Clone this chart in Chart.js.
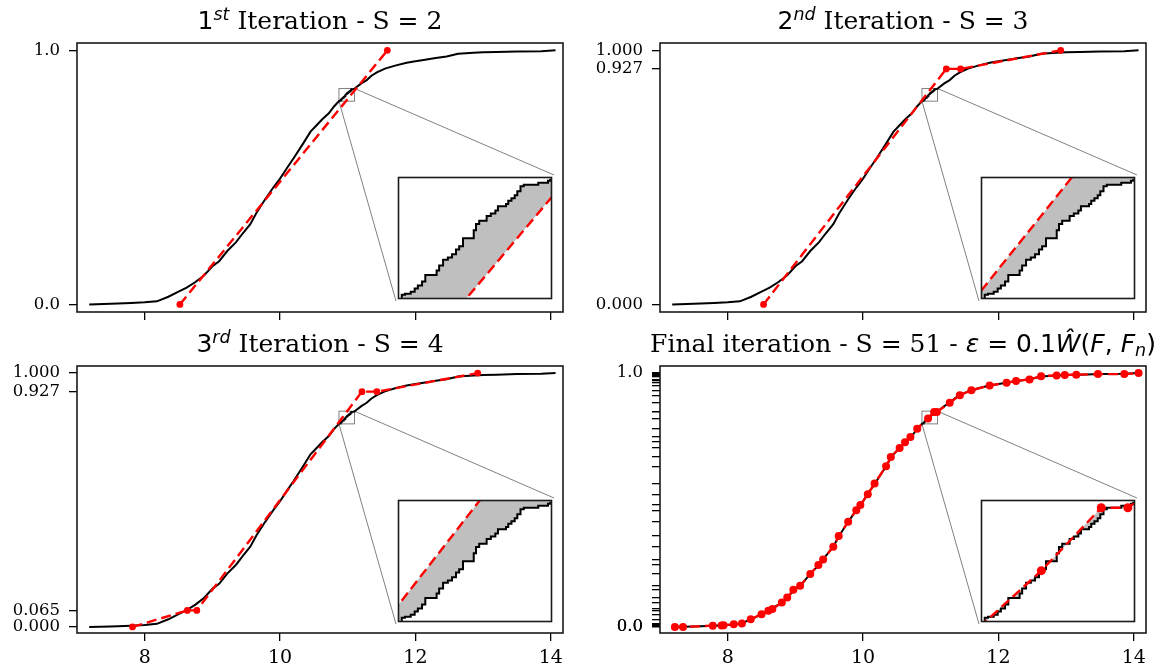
<!DOCTYPE html>
<html>
<head>
<meta charset="utf-8">
<script src="https://cdn.jsdelivr.net/npm/chart.js@4.4.1/dist/chart.umd.min.js"></script>
<style>
  html, body { margin: 0; padding: 0; background: #fff; }
  #wrap { position: relative; width: 1160px; height: 670px; overflow: hidden; }
  canvas { position: absolute; }
  .title { position: absolute; width: 700px; white-space: nowrap; text-align: center;
           font-family: 'DejaVu Serif', serif; font-size: 25px; line-height: 25px; color: #000; }
  .m { font-family: 'DejaVu Sans', sans-serif; }
  .title sup { font-size: 0.7em; font-style: italic; vertical-align: 0.5em; line-height: 0; }
  .title sub { font-size: 0.7em; vertical-align: -0.25em; line-height: 0; }
</style>
</head>
<body>
<div id="wrap"></div>
<script>
  const ecdfX = [7.18, 7.50, 7.80, 8.00, 8.18, 8.35, 8.50, 8.62, 8.75, 8.88, 9.00, 9.10, 9.22, 9.35, 9.45, 9.56, 9.65, 9.78, 9.90, 10.00, 10.10, 10.20, 10.34, 10.45, 10.54, 10.62, 10.72, 10.80,
    10.8749, 10.8797, 10.8884, 10.8943, 10.8991, 10.9054, 10.9103, 10.9273, 10.9311, 10.9370, 10.9442, 10.9505, 10.9564, 10.9612, 10.9670, 10.9831, 10.9865, 10.9913,
    11.0025, 11.0088, 11.0156, 11.0195, 11.0316, 11.0350, 11.0398, 11.0447, 11.0486, 11.0534, 11.0583, 11.0801, 11.0947, 11.0981,
    11.20, 11.28, 11.35, 11.43, 11.55, 11.70, 11.87, 12.00, 12.12, 12.30, 12.46, 12.63, 12.86, 13.00, 13.20, 13.50, 13.86, 14.07];
  const ecdfY = [0.000, 0.002, 0.005, 0.008, 0.012, 0.030, 0.050, 0.066, 0.088, 0.115, 0.150, 0.170, 0.210, 0.245, 0.280, 0.316, 0.360, 0.414, 0.460, 0.495, 0.536, 0.575, 0.633, 0.680, 0.705, 0.728, 0.752, 0.780,
    0.8015, 0.8020, 0.8028, 0.8041, 0.8054, 0.8070, 0.8097, 0.8116, 0.8136, 0.8160, 0.8169, 0.8183, 0.8202, 0.8216, 0.8249, 0.8282, 0.8308, 0.8321,
    0.8341, 0.8351, 0.8364, 0.8381, 0.8390, 0.8404, 0.8414, 0.8427, 0.8443, 0.8464, 0.8470, 0.8478, 0.8487, 0.8491,
    0.870, 0.883, 0.900, 0.913, 0.928, 0.940, 0.951, 0.957, 0.962, 0.970, 0.976, 0.987, 0.991, 0.993, 0.994, 0.996, 0.997, 1.000];

  // piecewise linear approximations
  const s2X = [8.52, 11.585];
  const s2Y = [0, 1];
  const s3X = [8.53, 11.23, 11.44, 12.92];
  const s3Y = [0, 0.927, 0.927, 1.0];
  const s4X = [7.82, 8.63, 8.77, 11.21, 11.43, 12.92];
  const s4Y = [0, 0.065, 0.065, 0.927, 0.927, 1.0];
  const s51X = [7.22, 7.34, 7.78, 7.91, 7.94, 8.09, 8.21, 8.34, 8.50, 8.60, 8.66, 8.80, 8.88, 8.97, 9.07, 9.22, 9.34, 9.41, 9.56, 9.64, 9.78, 9.90, 9.96, 10.07,
    10.17, 10.34, 10.41, 10.54, 10.62, 10.70, 10.80, 10.96, 11.05, 11.09, 11.28, 11.43, 11.60, 11.87, 12.12, 12.26, 12.46, 12.63, 12.86, 12.98, 13.15, 13.47, 13.86, 14.07];
  const s51Y = [0.000, 0.000, 0.005, 0.006, 0.007, 0.010, 0.013, 0.030, 0.050, 0.064, 0.071, 0.096, 0.116, 0.146, 0.162, 0.208, 0.244, 0.266, 0.316, 0.358, 0.414, 0.460, 0.480, 0.523,
    0.565, 0.633, 0.669, 0.705, 0.728, 0.748, 0.781, 0.821, 0.847, 0.847, 0.883, 0.913, 0.932, 0.951, 0.962, 0.969, 0.975, 0.988, 0.991, 0.993, 0.994, 0.996, 0.996, 1.000];

  const xTicks = [8, 10, 12, 14];
  const yTicks1 = [0, 1];
  const yTicks2 = [0, 0.927, 1];
  const yTicks3 = [0, 0.065, 0.927, 1];
  const zoomX = [10.87, 11.10];
  const zoomY = [0.80, 0.85];

  const titles = [
    '<span class="m">1<sup>st</sup></span> Iteration - S = 2',
    '<span class="m">2<sup>nd</sup></span> Iteration - S = 3',
    '<span class="m">3<sup>rd</sup></span> Iteration - S = 4',
    'Final iteration - S = 51 - <span class="m"><i>ε</i> = 0.1<i>Ŵ</i>(<i>F</i>, <i>F</i><sub><i>n</i></sub>)</span>'
  ];

  const panels = [
    { L: 77, T: 43, H: 269, sx: s2X, sy: s2Y, ticks: yTicks1, digits: 1, ymin: -0.030, ymax: 1.029, xlabels: false, title: titles[0], r: 3.4 },
    { L: 660, T: 43, H: 269, sx: s3X, sy: s3Y, ticks: yTicks2, digits: 3, ymin: -0.030, ymax: 1.029, xlabels: false, title: titles[1], r: 3.4 },
    { L: 77, T: 366, H: 267, sx: s4X, sy: s4Y, ticks: yTicks3, digits: 3, ymin: -0.024, ymax: 1.028, xlabels: true, title: titles[2], r: 3.4 },
    { L: 660, T: 366, H: 267, sx: s51X, sy: s51Y, ticks: s51Y, digits: 1, ymin: -0.024, ymax: 1.028, xlabels: true, title: titles[3], r: 4, sparse: true }
  ];

  const W = 486;
  const wrap = document.getElementById('wrap');
  const yFont = { family: "'DejaVu Serif', serif", size: 16.5 };
  const xFont = { family: "'DejaVu Serif', serif", size: 19 };

  function pts(xs, ys) {
    return xs.map((x, i) => ({ x: x, y: ys[i] }));
  }

  function addCanvas(left, top, w, h) {
    const c = document.createElement('canvas');
    c.width = w; c.height = h;
    c.style.left = left + 'px'; c.style.top = top + 'px';
    c.style.width = w + 'px'; c.style.height = h + 'px';
    wrap.appendChild(c);
    return c;
  }

  const frame = {
    id: 'frame',
    beforeDraw(chart, args, o) {
      if (!o.white) return;
      const a = chart.chartArea;
      chart.ctx.save();
      chart.ctx.fillStyle = '#fff';
      chart.ctx.fillRect(a.left, a.top, a.right - a.left, a.bottom - a.top);
      chart.ctx.restore();
    },
    afterDraw(chart) {
      const a = chart.chartArea, ctx = chart.ctx;
      ctx.save();
      ctx.strokeStyle = '#1a1a1a';
      ctx.lineWidth = 1.6;
      ctx.strokeRect(a.left, a.top, a.right - a.left, a.bottom - a.top);
      ctx.restore();
    }
  };

  const zoomBox = {
    id: 'zoomBox',
    beforeDatasetsDraw(chart, args, o) {
      const ctx = chart.ctx, x = chart.scales.x, y = chart.scales.y;
      const x0 = x.getPixelForValue(zoomX[0]), x1 = x.getPixelForValue(zoomX[1]);
      const y0 = y.getPixelForValue(zoomY[0]), y1 = y.getPixelForValue(zoomY[1]);
      ctx.save();
      ctx.strokeStyle = '#808080';
      ctx.lineWidth = 1;
      ctx.strokeRect(x0, y1, x1 - x0, y0 - y1);
      ctx.beginPath();
      ctx.moveTo(x1, y1); ctx.lineTo(o.right, o.top);
      ctx.moveTo(x0, y0); ctx.lineTo(o.left, o.bottom);
      ctx.stroke();
      ctx.restore();
    }
  };

  panels.forEach(function (p) {
    // main axes
    const cl = p.L - 77, ct = p.T - 10;
    const canvas = addCanvas(cl, ct, 77 + W + 14, 10 + p.H + 44);
    const inset = { left: p.L + 319, top: p.T + 132, w: 158, h: 126 };

    new Chart(canvas.getContext('2d'), {
      type: 'line',
      data: {
        datasets: [{
          data: pts(p.sx, p.sy),
          borderColor: '#ff0000',
          borderWidth: 2.4,
          borderDash: [10, 5],
          pointRadius: p.r,
          pointBackgroundColor: '#ff0000',
          pointBorderWidth: 0,
          order: 0
        }, {
          data: pts(ecdfX, ecdfY),
          borderColor: '#000',
          borderWidth: 2,
          pointRadius: 0,
          order: 1
        }]
      },
      options: {
        responsive: false,
        animation: false,
        devicePixelRatio: 1,
        layout: { padding: { top: 10, right: 14, left: 0, bottom: 0 } },
        plugins: {
          legend: { display: false },
          tooltip: { enabled: false },
          zoomBox: { left: inset.left - cl, top: inset.top - ct, right: inset.left + inset.w - cl, bottom: inset.top + inset.h - ct }
        },
        scales: {
          x: {
            type: 'linear', min: 7.0, max: 14.18,
            afterFit(s) { s.height = 44; s.paddingLeft = 0; s.paddingRight = 0; },
            afterBuildTicks(s) { s.ticks = xTicks.map(v => ({ value: v })); },
            ticks: {
              font: xFont, color: '#000', padding: 6, maxRotation: 0, autoSkip: false,
              callback: v => p.xlabels ? String(v) : ''
            },
            grid: { drawOnChartArea: false, drawTicks: true, tickLength: 8, color: '#000', lineWidth: 1.3 },
            border: { display: false }
          },
          y: {
            type: 'linear', min: p.ymin, max: p.ymax,
            afterFit(s) { s.width = 77; s.paddingTop = 0; s.paddingBottom = 0; },
            afterBuildTicks(s) { s.ticks = p.ticks.map(v => ({ value: v })); },
            ticks: {
              font: yFont, color: '#000', padding: 9, autoSkip: false,
              callback: function (v) {
                if (p.sparse && v !== 0 && v !== 1) return '';
                return v.toFixed(p.digits);
              }
            },
            grid: { drawOnChartArea: false, drawTicks: true, tickLength: 8, color: '#000', lineWidth: 1.3 },
            border: { display: false }
          }
        }
      },
      plugins: [frame, zoomBox]
    });

    // zoomed inset
    const ic = addCanvas(inset.left - 2, inset.top - 2, inset.w + 4, inset.h + 4);
    new Chart(ic.getContext('2d'), {
      type: 'line',
      data: {
        datasets: [{
          data: pts(p.sx, p.sy),
          borderColor: '#ff0000',
          borderWidth: 2.4,
          borderDash: [10, 5],
          pointRadius: 4.5,
          pointBackgroundColor: '#ff0000',
          pointBorderWidth: 0,
          order: 0
        }, {
          data: pts(ecdfX, ecdfY),
          borderColor: '#000',
          borderWidth: 2,
          pointRadius: 0,
          stepped: true,
          fill: 0,
          backgroundColor: '#bfbfbf',
          order: 1
        }]
      },
      options: {
        responsive: false,
        animation: false,
        devicePixelRatio: 1,
        layout: { padding: 2 },
        plugins: { legend: { display: false }, tooltip: { enabled: false }, frame: { white: true } },
        scales: {
          x: { type: 'linear', display: false, min: zoomX[0], max: zoomX[1] },
          y: { type: 'linear', display: false, min: zoomY[0], max: zoomY[1] }
        }
      },
      plugins: [frame]
    });

    // title
    const t = document.createElement('div');
    t.className = 'title';
    t.innerHTML = p.title;
    t.style.left = (p.L + W / 2 - 350) + 'px';
    t.style.top = (p.T - 35) + 'px';
    wrap.appendChild(t);
  });
</script>
</body>
</html>
